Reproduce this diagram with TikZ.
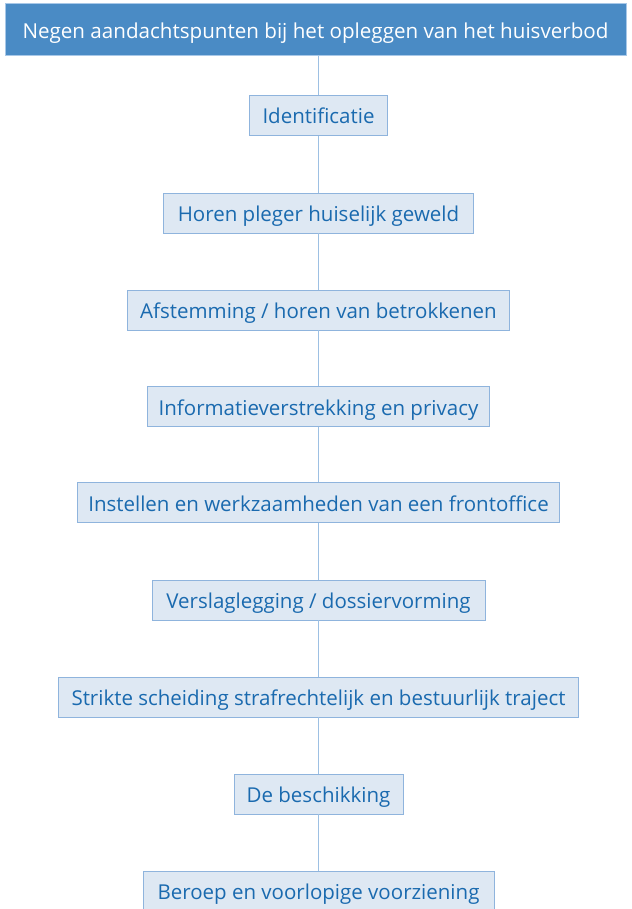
\documentclass[tikz,border=0pt]{standalone}
\usepackage{fontspec}
\setmainfont{Open Sans}
\definecolor{titlefill}{HTML}{4A8BC5}
\definecolor{titleline}{HTML}{A8C8E8}
\definecolor{boxfill}{HTML}{DEE8F3}
\definecolor{boxline}{HTML}{8FB4DD}
\definecolor{boxtext}{HTML}{1A6AAF}
\definecolor{conn}{HTML}{9DC0E3}
\begin{document}
\begin{tikzpicture}[x=1pt,y=-1pt,
  titlebox/.style={draw=titleline,fill=titlefill,line width=1pt,text=white,
    font=\fontsize{20.6}{24}\selectfont,inner sep=0pt,minimum height=52pt,
    text height=19pt,text depth=2pt},
  itembox/.style={draw=boxline,fill=boxfill,line width=0.8pt,text=boxtext,
    font=\fontsize{20.5}{24}\selectfont,inner sep=0pt,minimum height=40pt,
    text height=19pt,text depth=2pt},
  link/.style={draw=conn,line width=1pt}]
\useasboundingbox (0,0) rectangle (631,909);
\node[titlebox,minimum width=621pt] (t) at (315.5,30) {Negen aandachtspunten bij het opleggen van het huisverbod};
\node[itembox,minimum width=138pt] (a) at (318.5,115.5) {Identificatie};
\node[itembox,minimum width=310pt] (b) at (318.5,213) {Horen pleger huiselijk geweld};
\node[itembox,minimum width=382pt] (c) at (318.5,310) {Afstemming / horen van betrokkenen};
\node[itembox,minimum width=342pt] (d) at (318.5,406.5) {Informatieverstrekking en privacy};
\node[itembox,minimum width=482pt] (e) at (318.5,502.5) {Instellen en werkzaamheden van een frontoffice};
\node[itembox,minimum width=333pt] (f) at (318.5,600) {Verslaglegging / dossiervorming};
\node[itembox,minimum width=520pt] (g) at (318.5,697) {Strikte scheiding strafrechtelijk en bestuurlijk traject};
\node[itembox,minimum width=169pt] (h) at (318.5,794) {De beschikking};
\node[itembox,minimum width=351pt] (i) at (318.5,891) {Beroep en voorlopige voorziening};
\draw[link] (t.south -| a.north) -- (a.north);
\draw[link] (a.south) -- (b.north);
\draw[link] (b.south) -- (c.north);
\draw[link] (c.south) -- (d.north);
\draw[link] (d.south) -- (e.north);
\draw[link] (e.south) -- (f.north);
\draw[link] (f.south) -- (g.north);
\draw[link] (g.south) -- (h.north);
\draw[link] (h.south) -- (i.north);
\end{tikzpicture}
\end{document}
